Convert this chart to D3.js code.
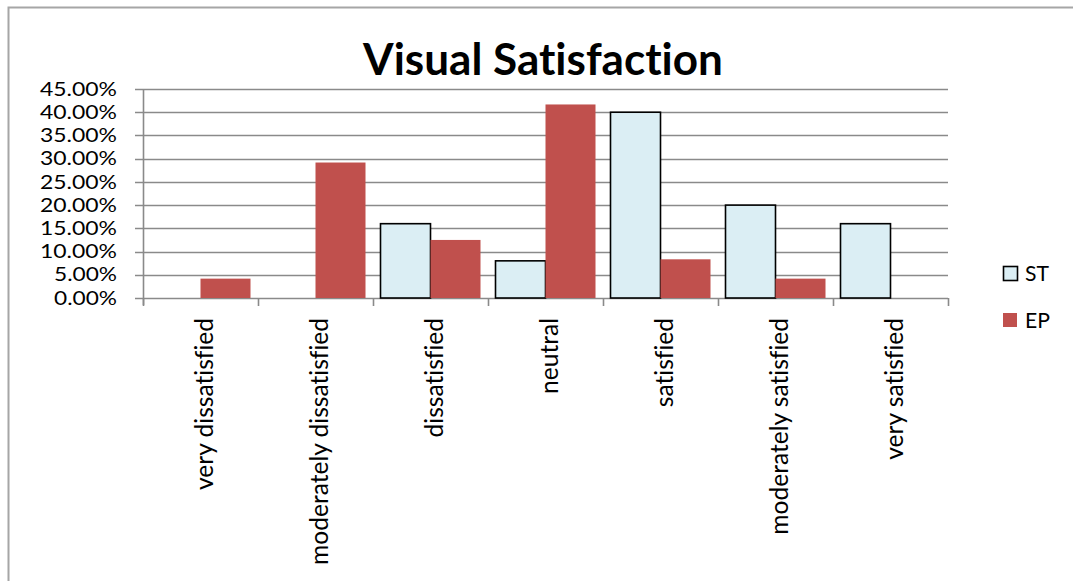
<!DOCTYPE html>
<html>
<head>
<meta charset="utf-8">
<script src="https://cdn.jsdelivr.net/npm/d3@7/dist/d3.min.js"></script>
<style>
  html, body { margin: 0; padding: 0; background: #fff; }
  svg { display: block; }
  text { font-family: Lato, "Open Sans", sans-serif; fill: #000;
         font-variant-ligatures: none; font-feature-settings: "liga" 0; }
</style>
</head>
<body>
<svg id="chart" width="1073" height="581"></svg>
<script>
// Survey categories and response shares per group
const categories = [
  "very dissatisfied", "moderately dissatisfied", "dissatisfied", "neutral",
  "satisfied", "moderately satisfied", "very satisfied"
];
const seriesNames = ["ST", "EP"];
const stValues = [0, 0, 0.16, 0.08, 0.40, 0.20, 0.16];
const epValues = [0.0417, 0.2917, 0.125, 0.4167, 0.0833, 0.0417, 0];
const yTicks = [0, 0.05, 0.10, 0.15, 0.20, 0.25, 0.30, 0.35, 0.40, 0.45];
const titleText = "Visual Satisfaction";

const colors = { ST: "#dbeef4", EP: "#c0504d" };
const gridColor = "#8a8a8a";

const svg = d3.select("#chart");

// outer frame (left and top edges visible)
svg.append("rect")
  .attr("x", 8.5).attr("y", 7.5)
  .attr("width", 1200).attr("height", 800)
  .attr("fill", "none").attr("stroke", "#a6a6a6").attr("stroke-width", 2);

const plot = { left: 143, right: 948, top: 89, bottom: 298 };

const y = d3.scaleLinear().domain([0, 0.45]).range([plot.bottom, plot.top]);
const x = d3.scaleBand().domain(categories).range([plot.left, plot.right]).padding(0);
const xs = d3.scaleBand().domain(seriesNames).range([0, x.bandwidth()])
  .paddingInner(0).paddingOuter(0.15);

// scale a text selection's font so a reference string spans a given width
function fitFont(sel, refNode, target, base) {
  const w = refNode.getComputedTextLength();
  const size = base * target / w;
  sel.style("font-size", size + "px");
  return size;
}

// horizontal gridlines
svg.append("g").selectAll("line").data(yTicks).join("line")
  .attr("x1", plot.left - 8).attr("x2", plot.right)
  .attr("y1", d => Math.round(y(d)) + 0.5).attr("y2", d => Math.round(y(d)) + 0.5)
  .attr("stroke", gridColor).attr("stroke-width", 1.6);

// y axis line
svg.append("line")
  .attr("x1", plot.left + 0.5).attr("x2", plot.left + 0.5)
  .attr("y1", plot.top).attr("y2", plot.bottom + 7)
  .attr("stroke", gridColor).attr("stroke-width", 1.6);

// x axis category boundary ticks
const bounds = categories.map(c => x(c)).concat([plot.right]);
svg.append("g").selectAll("line").data(bounds).join("line")
  .attr("x1", d => d + 0.5).attr("x2", d => d + 0.5)
  .attr("y1", plot.bottom).attr("y2", plot.bottom + 8)
  .attr("stroke", gridColor).attr("stroke-width", 1.6);

// y tick labels: compact size, stretched horizontally to the label column width
const fmt = d3.format(".2%");
svg.append("g").selectAll("text").data(yTicks).join("text")
  .attr("x", 117).attr("y", d => y(d))
  .attr("dy", "0.36em")
  .attr("text-anchor", "end")
  .style("font-size", "18.5px")
  .attr("textLength", d => fmt(d).length === 6 ? 77 : 63)
  .attr("lengthAdjust", "spacingAndGlyphs")
  .text(d => fmt(d));

// bars
const groups = svg.append("g").selectAll("g").data(categories).join("g")
  .attr("transform", c => `translate(${x(c)},0)`);

groups.append("rect")
  .attr("x", (c, i) => xs("ST"))
  .attr("width", xs.bandwidth())
  .attr("y", (c, i) => y(stValues[i]))
  .attr("height", (c, i) => y(0) - y(stValues[i]))
  .attr("fill", colors.ST)
  .attr("stroke", (c, i) => stValues[i] > 0 ? "#000" : "none")
  .attr("stroke-width", 1.6);

groups.append("rect")
  .attr("x", (c, i) => xs("EP"))
  .attr("width", xs.bandwidth())
  .attr("y", (c, i) => y(epValues[i]))
  .attr("height", (c, i) => y(0) - y(epValues[i]))
  .attr("fill", colors.EP);

// rotated category labels
const catLabels = svg.append("g").selectAll("text").data(categories).join("text")
  .attr("transform", c => `translate(${x(c) + x.bandwidth() / 2 + 4},318) rotate(-90)`)
  .attr("text-anchor", "end")
  .attr("dy", "0.35em")
  .style("font-size", "20px")
  .text(c => c);
fitFont(catLabels, catLabels.filter(c => c === "moderately dissatisfied").node(), 247, 20);

// title
const title = svg.append("text")
  .attr("x", 543).attr("y", 75)
  .attr("text-anchor", "middle")
  .style("font-weight", "bold")
  .style("font-size", "40px")
  .text(titleText);
fitFont(title, title.node(), 360, 40);

// legend
const legend = svg.append("g");
const legendRows = [
  { name: "ST", y: 266, stroke: "#000" },
  { name: "EP", y: 313, stroke: "none" }
];
legend.selectAll("rect").data(legendRows).join("rect")
  .attr("x", d => d.stroke === "none" ? 1003 : 1003.5)
  .attr("y", d => d.stroke === "none" ? d.y : d.y + 0.5)
  .attr("width", 14).attr("height", 14)
  .attr("fill", d => colors[d.name])
  .attr("stroke", d => d.stroke).attr("stroke-width", 1.6);
const legendText = legend.selectAll("text").data(legendRows).join("text")
  .attr("x", 1025).attr("y", d => d.y + 7)
  .attr("dy", "0.36em")
  .style("font-size", "20px")
  .text(d => d.name);
fitFont(legendText, legendText.filter(d => d.name === "ST").node(), 24, 20);
</script>
</body>
</html>
